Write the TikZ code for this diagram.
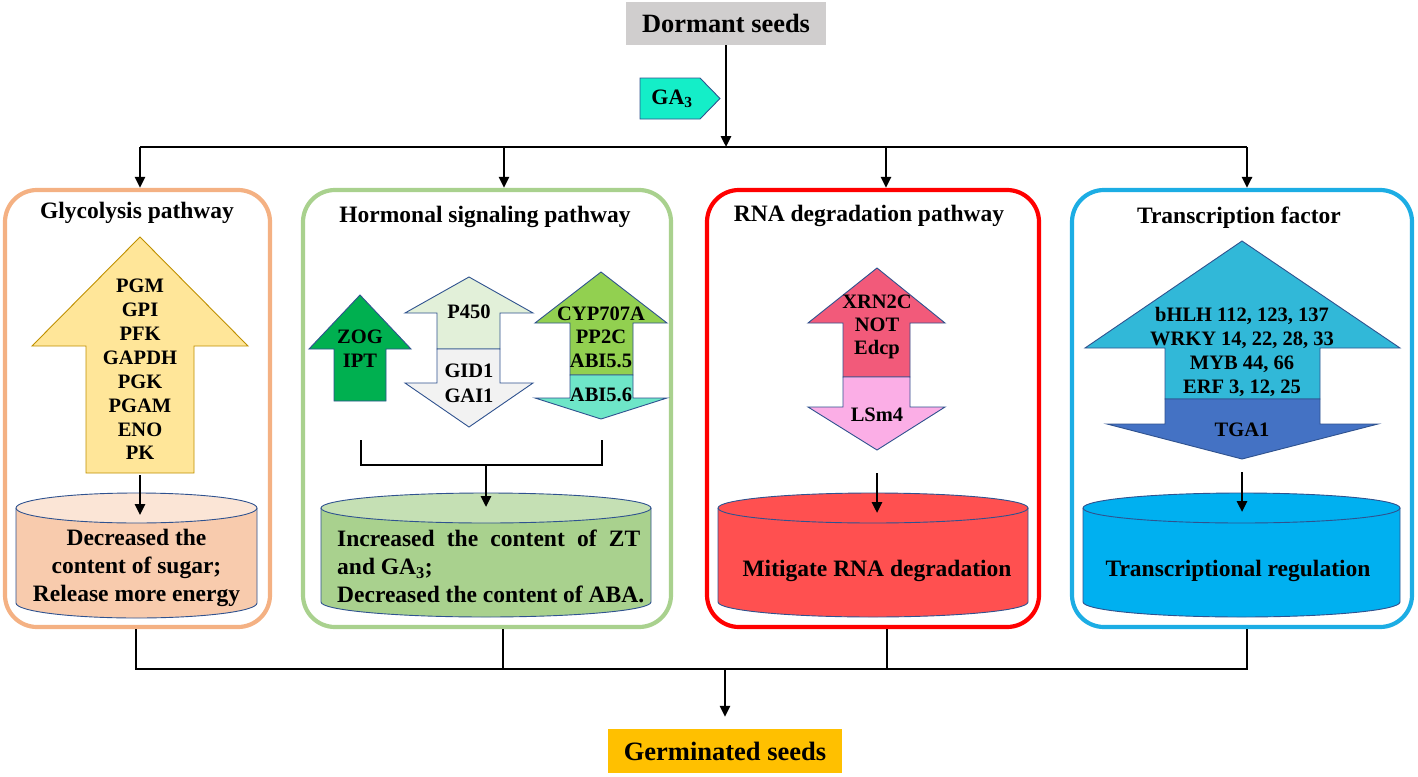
\documentclass[tikz,border=0pt]{standalone}
\usepackage{fontspec}
\setmainfont{Liberation Serif}
\usetikzlibrary{arrows.meta}
\definecolor{grayb}{HTML}{D0CECE}
\definecolor{gacol}{HTML}{14EEC8}
\definecolor{edgeb}{HTML}{2F528F}
\definecolor{orpan}{HTML}{F4B183}
\definecolor{yelar}{HTML}{FFE699}
\definecolor{yeled}{HTML}{BF9000}
\definecolor{cylAbody}{HTML}{F8CBAD}
\definecolor{cylAtop}{HTML}{FBE5D6}
\definecolor{grpan}{HTML}{A9D18E}
\definecolor{zogcol}{HTML}{00B050}
\definecolor{p450col}{HTML}{E2F0D9}
\definecolor{gidcol}{HTML}{F2F2F2}
\definecolor{cypcol}{HTML}{92D050}
\definecolor{abicol}{HTML}{6EE6C8}
\definecolor{cylBtop}{HTML}{C5E0B4}
\definecolor{rdpan}{HTML}{FF0000}
\definecolor{xrncol}{HTML}{F25A7A}
\definecolor{lsmcol}{HTML}{FBAEE6}
\definecolor{cylC}{HTML}{FF5050}
\definecolor{blpan}{HTML}{1CADE4}
\definecolor{bhlhcol}{HTML}{31B8D8}
\definecolor{tgacol}{HTML}{4472C4}
\definecolor{cylD}{HTML}{00B0F0}
\definecolor{germcol}{HTML}{FFC000}
\tikzset{
  conn/.style={line width=2.6pt,-{Triangle[length=11pt,width=10pt]}},
  wire/.style={line width=2.6pt},
  panel/.style={rounded corners=32pt,line width=4.2pt,fill=white,minimum height=437pt},
  blk/.style={draw=edgeb,line width=0.9pt},
  ttl/.style={font=\fontsize{23.5}{27}\selectfont\bfseries,inner sep=0pt},
  alab/.style={font=\fontsize{20.5}{23.7}\selectfont\bfseries,align=center,inner sep=0pt},
  clab/.style={font=\fontsize{23.5}{28}\selectfont\bfseries,align=center,inner sep=0pt},
  cyledge/.style={draw=edgeb,line width=0.9pt},
}
\begin{document}
\begin{tikzpicture}[x=1pt,y=-1pt]
\useasboundingbox (0,0) rectangle (1418,776);

% ---- top ----
\node[fill=grayb,minimum width=200pt,minimum height=43pt,inner sep=0pt,
      font=\fontsize{26.4}{30}\selectfont\bfseries] (dormant) at (726,23.5) {Dormant seeds};
\draw[blk,fill=gacol] (640,78) -- (700,78) -- (720,98.5) -- (700,119) -- (640,119) -- cycle;
\node[font=\fontsize{22}{26}\selectfont\bfseries,inner sep=0pt] (ga) at (672,98.5) {GA\textsubscript{3}};
\coordinate (jtop) at (726,147);
\coordinate (tl) at (140,147);
\coordinate (tr) at (1247,147);
\draw[conn] (dormant) -- (jtop);
\draw[wire] (tl) -- (tr);

% ---- panels ----
\node[panel,draw=orpan,minimum width=265pt] (p1) at (137.5,408.5) {};
\node[panel,draw=grpan,minimum width=368pt] (p2) at (487,408.5) {};
\node[panel,draw=rdpan,minimum width=332pt] (p3) at (873,408.5) {};
\node[panel,draw=blpan,minimum width=340pt] (p4) at (1242,408.5) {};

\coordinate (t2) at (504,147);
\coordinate (t3) at (886,147);
\draw[conn] (tl) -- (tl |- p1.north);
\draw[conn] (t2) -- (t2 |- p2.north);
\draw[conn] (t3) -- (t3 |- p3.north);
\draw[conn] (tr) -- (tr |- p4.north);

\node[ttl] (h1) at (137,213) {Glycolysis pathway};
\node[ttl] (h2) at (485,217) {Hormonal signaling pathway};
\node[ttl] (h3) at (869,216) {RNA degradation pathway};
\node[ttl] (h4) at (1239,218) {Transcription factor};

% ---- glycolysis ----
\draw[draw=yeled,line width=0.9pt,fill=yelar] (140,237) -- (248,346) -- (194,346) -- (194,473) -- (86,473) -- (86,346) -- (32,346) -- cycle;
\node[alab,font=\fontsize{20.5}{23.9}\selectfont\bfseries] (g1) at (140,369.5) {PGM\\GPI\\PFK\\GAPDH\\PGK\\PGAM\\ENO\\PK};
\coordinate (g1b) at (140,475);
\coordinate (c1t) at (140,515);
\fill[cylAbody] (16,508) -- (16,603) arc[start angle=180,end angle=360,x radius=120.5pt,y radius=15pt] -- (257,508) -- cycle;
\draw[cyledge] (16,508) -- (16,603) arc[start angle=180,end angle=360,x radius=120.5pt,y radius=15pt] -- (257,508);
\draw[cyledge,fill=cylAtop] (136.5,508) ellipse[x radius=120.5pt,y radius=15pt];
\draw[conn] (g1b) -- (c1t);
\node[clab] (c1) at (136.5,567.5) {Decreased the\\content of sugar;\\Release more energy};

% ---- hormonal ----
\draw[blk,fill=zogcol] (360,295) -- (411,349) -- (386,349) -- (386,401) -- (334,401) -- (334,349) -- (309,349) -- cycle;
\node[alab,font=\fontsize{20.5}{24}\selectfont\bfseries] (zog) at (360,349) {ZOG\\IPT};
\draw[blk,fill=p450col] (469,277) -- (533,313) -- (500,313) -- (500,349) -- (437,349) -- (437,313) -- (405,313) -- cycle;
\draw[blk,fill=gidcol] (437,349) -- (500,349) -- (500,383) -- (533,383) -- (469,427) -- (405,383) -- (437,383) -- cycle;
\node[alab] (p450) at (469,312) {P450};
\node[alab,font=\fontsize{20.5}{25}\selectfont\bfseries] (gid) at (469,383) {GID1\\GAI1};
\draw[blk,fill=cypcol] (601,272) -- (667,323) -- (633,323) -- (633,375) -- (570,375) -- (570,323) -- (535,323) -- cycle;
\draw[blk,fill=abicol] (570,375) -- (633,375) -- (633,398) -- (667,398) -- (601,419) -- (535,398) -- (570,398) -- cycle;
\node[alab,font=\fontsize{20.5}{23.5}\selectfont\bfseries] (cyp) at (601,337) {CYP707A\\PP2C\\ABI5.5};
\node[alab] (abi) at (601,395) {ABI5.6};
\coordinate (bl) at (361,440);
\coordinate (br) at (602,440);
\coordinate (bm) at (486,465);
\coordinate (c2t) at (486,507);
\fill[grpan] (321,508) -- (321,602) arc[start angle=180,end angle=360,x radius=165pt,y radius=15pt] -- (651,508) -- cycle;
\draw[cyledge] (321,508) -- (321,602) arc[start angle=180,end angle=360,x radius=165pt,y radius=15pt] -- (651,508);
\draw[cyledge,fill=cylBtop] (486,508) ellipse[x radius=165pt,y radius=15pt];
\draw[wire] (bl) -- (bl |- bm) -- (br |- bm) -- (br);
\draw[conn] (bm) -- (c2t);
\node[clab,align=left,anchor=west] (c2) at (337,566.5) {\makebox[303pt][s]{Increased the content of ZT}\\and GA\textsubscript{3};\\Decreased the content of ABA.};

% ---- RNA ----
\draw[blk,fill=xrncol] (877,268) -- (945,323) -- (910,323) -- (910,377) -- (843,377) -- (843,323) -- (808,323) -- cycle;
\draw[blk,fill=lsmcol] (843,377) -- (910,377) -- (910,407) -- (945,407) -- (877,450) -- (808,407) -- (843,407) -- cycle;
\node[alab,font=\fontsize{20.5}{23}\selectfont\bfseries] (xrn) at (877,327) {XRN2C\\NOT\\Edcp};
\node[alab] (lsm) at (877,415) {LSm4};
\coordinate (r1b) at (877,473);
\coordinate (c3t) at (877,513);
\fill[cylC] (718,508) -- (718,602) arc[start angle=180,end angle=360,x radius=155pt,y radius=15pt] -- (1028,508) -- cycle;
\draw[cyledge] (718,508) -- (718,602) arc[start angle=180,end angle=360,x radius=155pt,y radius=15pt] -- (1028,508);
\draw[cyledge,fill=cylC] (873,508) ellipse[x radius=155pt,y radius=15pt];
\draw[conn] (r1b) -- (c3t);
\node[clab] (c3) at (877,571) {Mitigate RNA degradation};

% ---- TF ----
\draw[blk,fill=bhlhcol] (1242,241) -- (1400,348) -- (1320,348) -- (1320,399) -- (1165,399) -- (1165,348) -- (1085,348) -- cycle;
\draw[blk,fill=tgacol] (1165,399) -- (1320,399) -- (1320,424) -- (1378,424) -- (1242,459) -- (1107,424) -- (1165,424) -- cycle;
\node[alab] (tf) at (1242,352) {bHLH 112, 123, 137\\WRKY 14, 22, 28, 33\\MYB 44, 66\\ERF 3, 12, 25};
\node[alab] (tga) at (1242,430) {TGA1};
\coordinate (f1b) at (1242,472);
\coordinate (c4t) at (1242,512);
\fill[cylD] (1083,508) -- (1083,602) arc[start angle=180,end angle=360,x radius=158.5pt,y radius=15pt] -- (1400,508) -- cycle;
\draw[cyledge] (1083,508) -- (1083,602) arc[start angle=180,end angle=360,x radius=158.5pt,y radius=15pt] -- (1400,508);
\draw[cyledge,fill=cylD] (1241.5,508) ellipse[x radius=158.5pt,y radius=15pt];
\draw[conn] (f1b) -- (c4t);
\node[clab] (c4) at (1238,571) {Transcriptional regulation};

% ---- bottom ----
\coordinate (b1) at (136,669);
\coordinate (b2) at (503,669);
\coordinate (b3) at (887,669);
\coordinate (b4) at (1247,669);
\coordinate (bmid) at (725,669);
\draw[wire] (b1 |- p1.south) -- (b1) -- (b4) -- (b4 |- p4.south);
\draw[wire] (b2 |- p2.south) -- (b2);
\draw[wire] (b3 |- p3.south) -- (b3);
\node[fill=germcol,minimum width=234pt,minimum height=44pt,inner sep=0pt,
      font=\fontsize{26.5}{30}\selectfont\bfseries] (germ) at (725,751) {Germinated seeds};
\draw[conn] (bmid) -- ([yshift=12pt]germ.north);
\end{tikzpicture}
\end{document}
